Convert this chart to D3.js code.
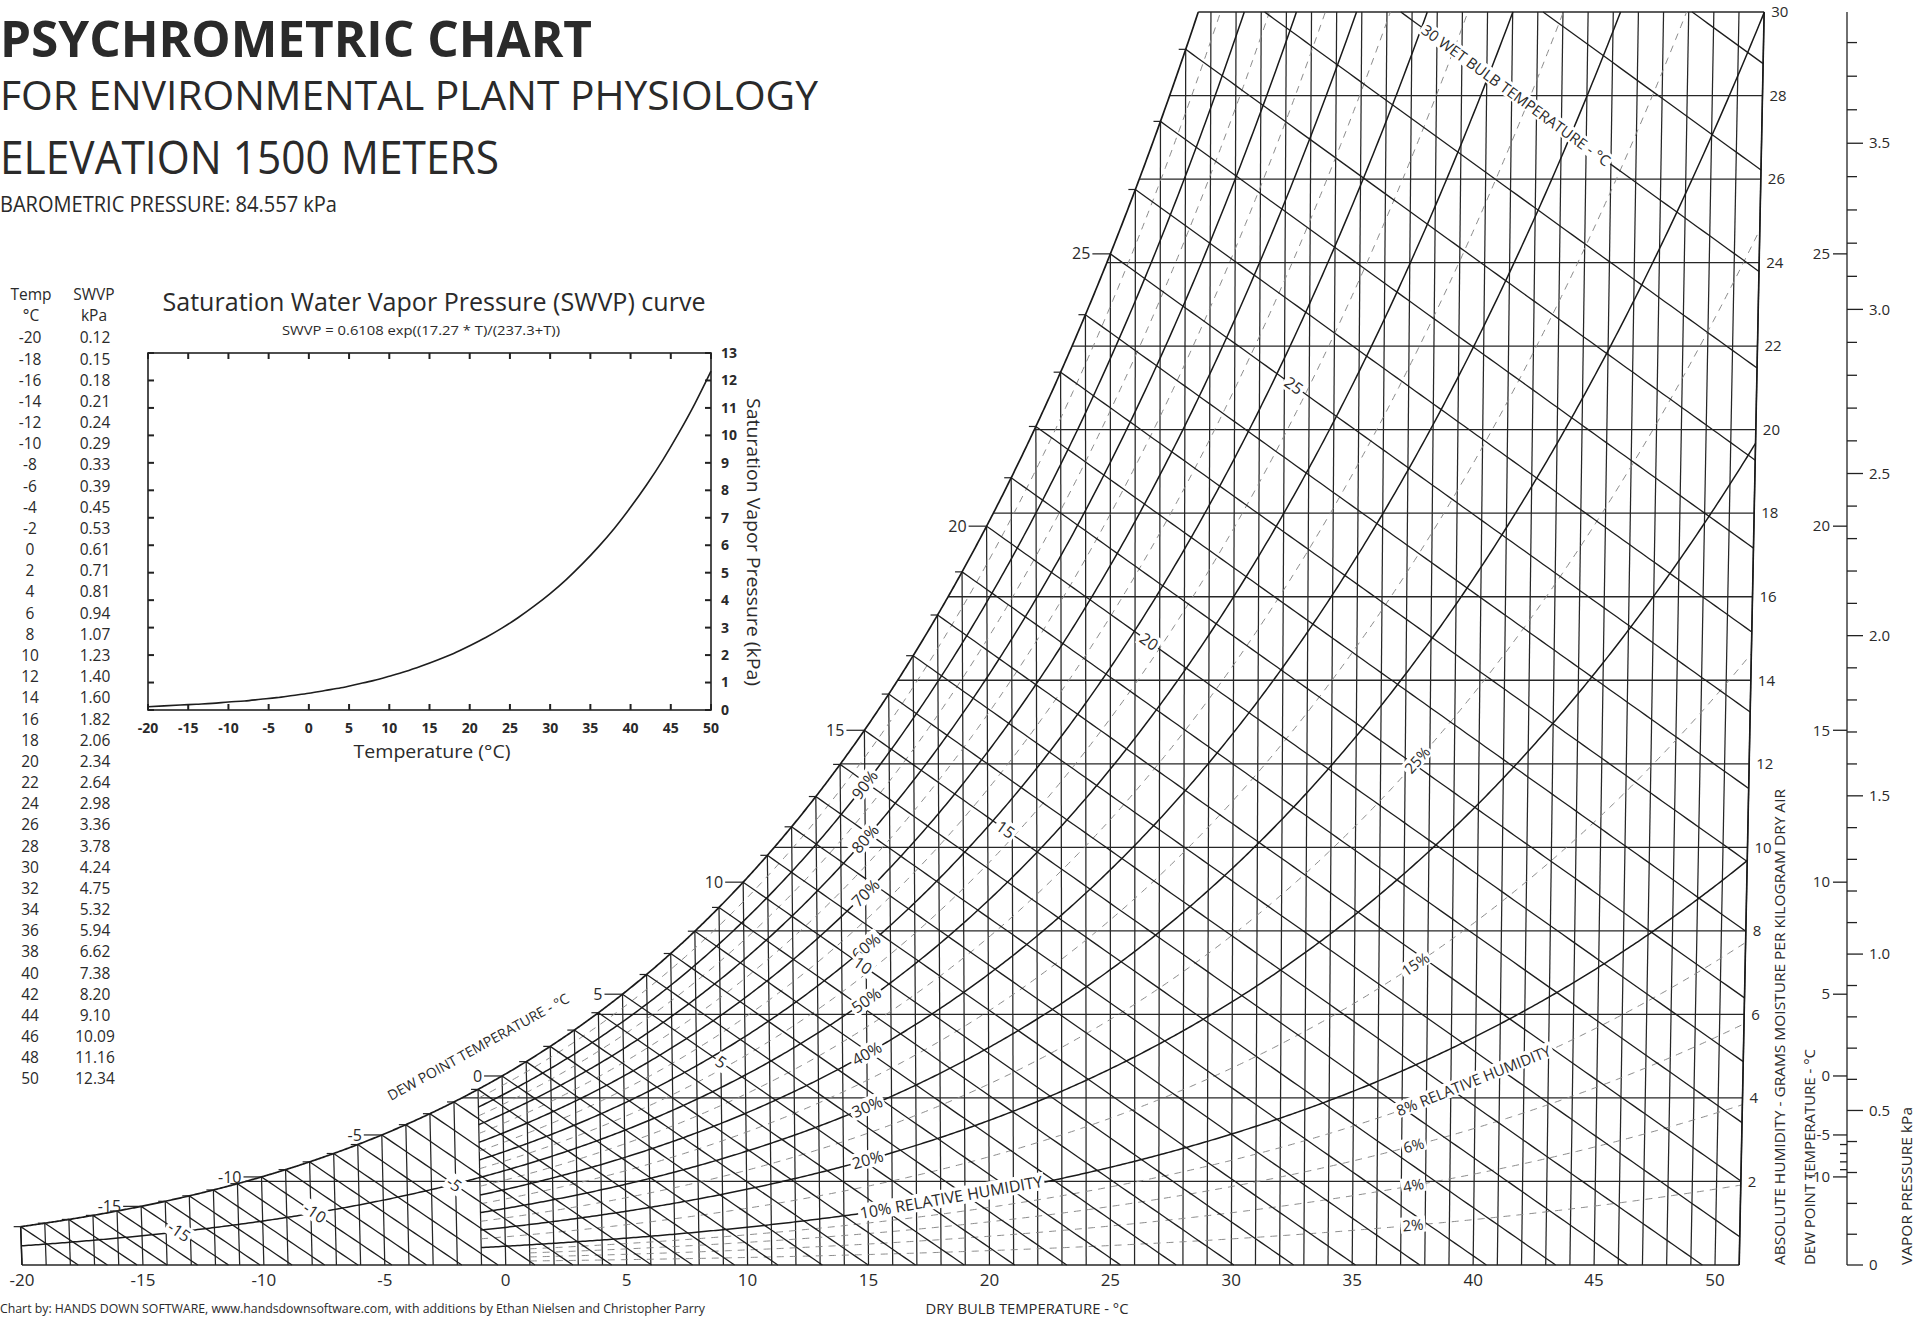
<!DOCTYPE html>
<html>
<head>
<meta charset="utf-8">
<script src="https://cdn.jsdelivr.net/npm/d3@7"></script>
<style>
  body { margin: 0; background: #fff; }
  svg { display: block; }
  text { font-family: "Open Sans", "DejaVu Sans", sans-serif; fill: #2a2a2a; }
  .narrow { font-family: "Liberation Sans Narrow", "Open Sans", sans-serif; }
</style>
</head>
<body>
<svg id="chart" width="1922" height="1320"></svg>
<script>
// ---- values ----
const tableTemps = [-20,-18,-16,-14,-12,-10,-8,-6,-4,-2,0,2,4,6,8,10,12,14,16,18,20,22,24,26,28,30,32,34,36,38,40,42,44,46,48,50];
const tableSwvp = [0.12,0.15,0.18,0.21,0.24,0.29,0.33,0.39,0.45,0.53,0.61,0.71,0.81,0.94,1.07,1.23,1.40,1.60,1.82,2.06,2.34,2.64,2.98,3.36,3.78,4.24,4.75,5.32,5.94,6.62,7.38,8.20,9.10,10.09,11.16,12.34];

const pressure = 84.557;                 // kPa, printed on the chart
const swvpA = 0.6108, swvpB = 17.27, swvpC = 237.3;   // printed SWVP formula

const dryBulbTicks = [-20,-15,-10,-5,0,5,10,15,20,25,30,35,40,45,50];
const humidityTicks = [2,4,6,8,10,12,14,16,18,20,22,24,26,28,30];
const rhSolid = [10,20,30,40,50,60,70,80,90];
const rhDashed = [2,4,6,8,15,25,35,45,55,65,75,85,95];
const rhMidLabels = [90,80,70,60,50,40,30,20];
const rhRightLabels = [2,4,6,15,25];
const satLabels = [-15,-10,-5,0,5,10,15,20,25];
const wetBulbLabels = [-15,-10,-5,5,10,15,20,25];
const dewTicks = [-10,-9,-8,-7,-6,-5,0,5,10,15,20,25];
const dewLabels = [-10,-5,0,5,10,15,20,25];
const vpLabels = [0,0.5,1.0,1.5,2.0,2.5,3.0,3.5];
const insetXTicks = [-20,-15,-10,-5,0,5,10,15,20,25,30,35,40,45,50];
const insetYTicks = [0,1,2,3,4,5,6,7,8,9,10,11,12,13];

const svg = d3.select("#chart");

// ---- psychrometric helpers ----
const wMax = 30, tMin = -20, tMax = 51;
const es = T => swvpA * Math.exp(swvpB * T / (swvpC + T));
const wFromE = e => 622 * e / (pressure - e);
const wSat = T => wFromE(es(T));
const wRH = (T, rh) => wFromE(rh / 100 * es(T));
const dewFromW = W => { const l = Math.log(W * pressure / (622 + W) / swvpA); return swvpC * l / (swvpB - l); };
const wWB = (T, tw) => ((2501 - 2.326 * tw) * wSat(tw) / 1000 - 1.006 * (T - tw)) / (2501 + 1.86 * T - 4.186 * tw) * 1000;

// ---- main chart scales ----
const x = d3.scaleLinear().domain([-20, 50]).range([22, 1715]);
const y = d3.scaleLinear().domain([0, 30]).range([1265, 12]);
const px = (T, W) => x(T) + 0.032 * W * (T - 25);   // dry bulb lines lean slightly

const line = d3.line().x(d => px(d[0], d[1])).y(d => y(d[1]));

function traceCurve(f, t0, t1, step = 0.1) {
  const pts = [];
  const inside = w => w >= 0 && w <= wMax;
  const n = Math.max(1, Math.ceil((t1 - t0) / step));
  let pT = t0, pW = f(t0);
  if (inside(pW)) pts.push([pT, pW]);
  for (let i = 1; i <= n; i++) {
    const T = t0 + (t1 - t0) * i / n, W = f(T);
    const a = inside(pW), b = inside(W);
    if (a !== b) {
      const lim = Math.max(pW, W) > wMax ? wMax : 0;
      let lo = pT, hi = T;
      for (let k = 0; k < 40; k++) {
        const m = (lo + hi) / 2;
        if ((f(m) - lim) * (pW - lim) > 0) lo = m; else hi = m;
      }
      pts.push([(lo + hi) / 2, lim]);
      if (a) break;
    }
    if (b) pts.push([T, W]);
    pT = T; pW = W;
  }
  return pts;
}

function solveT(g, a, b) {
  for (let k = 0; k < 50; k++) {
    const m = (a + b) / 2;
    if (g(a) * g(m) <= 0) b = m; else a = m;
  }
  return (a + b) / 2;
}

function angleAt(f, T) {
  const d = 0.25;
  const x1 = px(T - d, f(T - d)), y1 = y(f(T - d));
  const x2 = px(T + d, f(T + d)), y2 = y(f(T + d));
  return Math.atan2(y2 - y1, x2 - x1) * 180 / Math.PI;
}

const grid = svg.append("g").attr("fill", "none").attr("stroke-linecap", "butt");

// dry bulb lines
const dryBulbs = d3.range(tMin, tMax + 1);
grid.selectAll(".db").data(dryBulbs).join("path")
  .attr("class", "db")
  .attr("stroke", "#262626").attr("stroke-width", 1.25)
  .attr("d", T => line([[T, 0], [T, Math.min(wSat(T), wMax)]]));

// absolute humidity lines
grid.selectAll(".hl").data([0].concat(humidityTicks)).join("path")
  .attr("class", "hl")
  .attr("stroke", "#262626").attr("stroke-width", 1.3)
  .attr("d", W => line([[W === 0 ? tMin : dewFromW(W), W], [tMax, W]]));

// dashed relative humidity curves
grid.selectAll(".rhd").data(rhDashed).join("path")
  .attr("class", "rhd")
  .attr("stroke", "#8c8c8c").attr("stroke-width", 1).attr("stroke-dasharray", "7 6")
  .attr("d", rh => line(traceCurve(T => wRH(T, rh), rh < 10 ? 1 : -1, tMax)));

// wet bulb lines
const wetBulbs = d3.range(-20, 33);
grid.selectAll(".wb").data(wetBulbs).join("path")
  .attr("class", "wb")
  .attr("stroke", "#1e1e1e").attr("stroke-width", 1.3)
  .attr("d", tw => line(traceCurve(T => wWB(T, tw), tw, tMax, 0.25)));

// solid relative humidity curves
grid.selectAll(".rhs").data(rhSolid).join("path")
  .attr("class", "rhs")
  .attr("stroke", "#1a1a1a").attr("stroke-width", 1.5)
  .attr("d", rh => line(traceCurve(T => wRH(T, rh), rh === 50 ? tMin : -1, tMax)));

// saturation curve and edges
grid.append("path").attr("stroke", "#1a1a1a").attr("stroke-width", 1.7)
  .attr("d", line(traceCurve(wSat, tMin, tMax, 0.05)));
grid.append("path").attr("stroke", "#1a1a1a").attr("stroke-width", 1.6)
  .attr("d", line([[tMax, 0], [tMax, wMax]]));
grid.append("path").attr("stroke", "#1a1a1a").attr("stroke-width", 1.5)
  .attr("d", line([[tMin, 0], [tMin, wSat(tMin)]]));

// dew point ticks on saturation curve
const tSatTop = dewFromW(wMax);
const satPts = d3.range(-20, Math.floor(tSatTop) + 1);
grid.selectAll(".st").data(satPts).join("path")
  .attr("class", "st")
  .attr("stroke", "#222").attr("stroke-width", 1.2)
  .attr("d", T => {
    const W = wSat(T), len = satLabels.includes(T) ? 18 : 7;
    return `M${px(T, W)},${y(W)}h${-len}`;
  });

const labels = svg.append("g");
labels.selectAll(".sl").data(satLabels).join("text")
  .attr("class", "sl narrow")
  .attr("x", T => px(T, wSat(T)) - 20)
  .attr("y", T => y(wSat(T)))
  .attr("dy", "0.35em").attr("text-anchor", "end")
  .style("font-size", "16px")
  .text(d => d);

function boxedLabel(xp, yp, angle, txt, size, anchor = "middle") {
  const g = labels.append("g").attr("transform", `translate(${xp},${yp}) rotate(${angle})`);
  const t = g.append("text").attr("class", "narrow").attr("text-anchor", anchor)
    .attr("dy", "0.35em").style("font-size", size + "px").text(txt);
  const bb = t.node().getBBox();
  g.insert("rect", "text").attr("x", bb.x - 2).attr("y", bb.y + 2)
    .attr("width", bb.width + 4).attr("height", bb.height - 4).attr("fill", "#fff");
}

// RH labels along the 15 degree line
rhMidLabels.forEach(rh => {
  const f = T => wRH(T, rh);
  boxedLabel(px(15, f(15)), y(f(15)), angleAt(f, 15), rh + "%", 16);
});
{
  const f = T => wRH(T, 10);
  const a = Math.atan2(y(f(23)) - y(f(15)), px(23, f(23)) - px(15, f(15))) * 180 / Math.PI;
  boxedLabel(px(15, f(15)) - 8, y(f(15)) + 1, a, "10% RELATIVE HUMIDITY", 16, "start");
}
// RH labels on the right
rhRightLabels.forEach(rh => {
  const f = T => wRH(T, rh);
  boxedLabel(px(37.5, f(37.5)), y(f(37.5)), angleAt(f, 37.5), rh + "%", 15);
});
{
  const f = T => wRH(T, 8);
  const a = Math.atan2(y(f(43)) - y(f(36.8)), px(43, f(43)) - px(36.8, f(36.8))) * 180 / Math.PI;
  boxedLabel(px(36.8, f(36.8)), y(f(36.8)), a, "8% RELATIVE HUMIDITY", 15, "start");
}

// wet bulb labels
wetBulbLabels.forEach(tw => {
  const rh = tw < 0 ? 50 : 57;
  const T = solveT(t => wWB(t, tw) - wRH(t, rh), tw + 0.01, tw + 20);
  const f = t => wWB(t, tw);
  boxedLabel(px(T, f(T)), y(f(T)), angleAt(f, T), tw, 16);
});
{
  const f = t => wWB(t, 30);
  const t0 = solveT(t => f(t) - wMax, 30, 45) + 0.9;
  boxedLabel(px(t0, f(t0)), y(f(t0)), angleAt(f, t0), "30 WET BULB TEMPERATURE - °C", 15, "start");
}

labels.append("text")
  .attr("transform", "translate(391,1101) rotate(-29)")
  .style("font-size", "14px")
  .attr("textLength", 205).attr("lengthAdjust", "spacingAndGlyphs")
  .text("DEW POINT TEMPERATURE - °C");

// bottom axis labels
labels.selectAll(".xl").data(dryBulbTicks).join("text")
  .attr("class", "xl narrow")
  .attr("x", T => x(T)).attr("y", 1286)
  .attr("text-anchor", "middle").style("font-size", "17px")
  .text(d => d);

// right humidity labels
labels.selectAll(".yl").data(humidityTicks).join("text")
  .attr("class", "yl")
  .attr("x", W => px(tMax, W) + 7).attr("y", W => y(W))
  .attr("dy", "0.35em").style("font-size", "15px")
  .text(d => d);

labels.append("text").attr("x", 1027).attr("y", 1314).attr("text-anchor", "middle")
  .attr("class", "narrow").style("font-size", "15px")
  .attr("textLength", 203).attr("lengthAdjust", "spacingAndGlyphs")
  .text("DRY BULB TEMPERATURE - °C");
labels.append("text").attr("x", 0).attr("y", 1313)
  .attr("class", "narrow").style("font-size", "13px")
  .attr("textLength", 705).attr("lengthAdjust", "spacingAndGlyphs")
  .text("Chart by: HANDS DOWN SOFTWARE, www.handsdownsoftware.com, with additions by Ethan Nielsen and Christopher Parry");

// right-hand axis titles
const vt = (xb, len, txt) => labels.append("text")
  .attr("transform", `translate(${xb},1265) rotate(-90)`)
  .style("font-size", "15px")
  .attr("textLength", len).attr("lengthAdjust", "spacingAndGlyphs")
  .text(txt);
vt(1785, 476, "ABSOLUTE HUMIDITY - GRAMS MOISTURE PER KILOGRAM DRY AIR");
vt(1815, 216, "DEW POINT TEMPERATURE - °C");
vt(1912, 158, "VAPOR PRESSURE  kPa");

// dew point / vapour pressure scale
const ax = 1847;
const scale = svg.append("g").attr("stroke", "#222").attr("stroke-width", 1.3);
scale.append("line").attr("x1", ax).attr("x2", ax).attr("y1", y(0)).attr("y2", y(wMax));
const vpTicks = d3.range(0, 3.85, 0.1);
scale.selectAll(".vt").data(vpTicks).join("line")
  .attr("x1", ax).attr("x2", e => ax + (Math.abs(e * 2 - Math.round(e * 2)) < 1e-6 ? 16 : 10))
  .attr("y1", e => y(wFromE(e))).attr("y2", e => y(wFromE(e)));
scale.selectAll(".dt").data(dewTicks).join("line")
  .attr("x1", ax).attr("x2", T => ax - (dewLabels.includes(T) ? 14 : 7))
  .attr("y1", T => y(wSat(T))).attr("y2", T => y(wSat(T)));
labels.selectAll(".vl").data(vpLabels).join("text")
  .attr("x", ax + 22).attr("y", e => y(wFromE(e))).attr("dy", "0.35em")
  .style("font-size", "15px").text(d => d === 0 ? "0" : d3.format(".1f")(d));
labels.selectAll(".dl").data(dewLabels).join("text")
  .attr("x", ax - 17).attr("y", T => y(wSat(T))).attr("dy", "0.35em")
  .attr("text-anchor", "end").style("font-size", "15px").text(d => d);

// ---- titles ----
const head = svg.append("g");
head.append("text").attr("x", 0).attr("y", 57).style("font-size", "51px").style("font-weight", 700)
  .attr("textLength", 592).attr("lengthAdjust", "spacingAndGlyphs").text("PSYCHROMETRIC CHART");
head.append("text").attr("x", 0).attr("y", 110).style("font-size", "41px")
  .attr("textLength", 818).attr("lengthAdjust", "spacingAndGlyphs").text("FOR ENVIRONMENTAL PLANT PHYSIOLOGY");
head.append("text").attr("x", 0).attr("y", 174).style("font-size", "45px")
  .attr("textLength", 499).attr("lengthAdjust", "spacingAndGlyphs").text("ELEVATION 1500 METERS");
head.append("text").attr("x", 0).attr("y", 212).style("font-size", "21px")
  .attr("textLength", 337).attr("lengthAdjust", "spacingAndGlyphs").text("BAROMETRIC PRESSURE: 84.557 kPa");

// ---- table ----
const table = svg.append("g").style("font-size", "15.5px").attr("class", "narrow");
table.append("text").attr("x", 31).attr("y", 300).attr("text-anchor", "middle").text("Temp");
table.append("text").attr("x", 31).attr("y", 321).attr("text-anchor", "middle").text("°C");
table.append("text").attr("x", 94).attr("y", 300).attr("text-anchor", "middle").text("SWVP");
table.append("text").attr("x", 94).attr("y", 321).attr("text-anchor", "middle").text("kPa");
const rowY = d3.scaleLinear().domain([0, tableTemps.length - 1]).range([338, 1079]);
table.selectAll(".tt").data(tableTemps).join("text")
  .attr("x", 30).attr("y", (d, i) => rowY(i)).attr("dy", "0.35em").attr("text-anchor", "middle").text(d => d);
table.selectAll(".tv").data(tableSwvp).join("text")
  .attr("x", 95).attr("y", (d, i) => rowY(i)).attr("dy", "0.35em").attr("text-anchor", "middle")
  .text(d => d3.format(".2f")(d));

// ---- inset SWVP curve ----
const ix = d3.scaleLinear().domain([-20, 50]).range([148, 711]);
const iy = d3.scaleLinear().domain([0, 13]).range([710, 353]);
const inset = svg.append("g");
inset.append("rect").attr("x", ix(-20)).attr("y", iy(13)).attr("width", ix(50) - ix(-20)).attr("height", iy(0) - iy(13))
  .attr("fill", "none").attr("stroke", "#222").attr("stroke-width", 1.6);
const it = inset.append("g").attr("stroke", "#222").attr("stroke-width", 2);
it.selectAll(".b").data(insetXTicks).join("line")
  .attr("x1", d => ix(d)).attr("x2", d => ix(d)).attr("y1", iy(0)).attr("y2", iy(0) - 6);
it.selectAll(".t").data(insetXTicks).join("line")
  .attr("x1", d => ix(d)).attr("x2", d => ix(d)).attr("y1", iy(13)).attr("y2", iy(13) + 6);
it.selectAll(".l").data(insetYTicks).join("line")
  .attr("x1", ix(-20)).attr("x2", ix(-20) + 6).attr("y1", d => iy(d)).attr("y2", d => iy(d));
it.selectAll(".r").data(insetYTicks).join("line")
  .attr("x1", ix(50)).attr("x2", ix(50) - 6).attr("y1", d => iy(d)).attr("y2", d => iy(d));
inset.append("path")
  .datum(tableTemps.map((t, i) => [t, tableSwvp[i]]))
  .attr("fill", "none").attr("stroke", "#1e1e1e").attr("stroke-width", 1.6)
  .attr("d", d3.line().x(d => ix(d[0])).y(d => iy(d[1])).curve(d3.curveMonotoneX));
inset.selectAll(".ixl").data(insetXTicks).join("text")
  .attr("class", "narrow").attr("x", d => ix(d)).attr("y", 733)
  .attr("text-anchor", "middle").style("font-size", "14px").style("font-weight", 700).text(d => d);
inset.selectAll(".iyl").data(insetYTicks).join("text")
  .attr("class", "narrow").attr("x", 721).attr("y", d => iy(d)).attr("dy", "0.35em")
  .style("font-size", "14px").style("font-weight", 700).text(d => d);
inset.append("text").attr("x", 434).attr("y", 311).attr("text-anchor", "middle").style("font-size", "25px")
  .attr("textLength", 543).attr("lengthAdjust", "spacingAndGlyphs").text("Saturation Water Vapor Pressure (SWVP) curve");
inset.append("text").attr("x", 421).attr("y", 335).attr("text-anchor", "middle").attr("class", "narrow").style("font-size", "13px")
  .attr("textLength", 278).attr("lengthAdjust", "spacingAndGlyphs").text("SWVP = 0.6108 exp((17.27 * T)/(237.3+T))");
inset.append("text").attr("x", 432).attr("y", 758).attr("text-anchor", "middle").style("font-size", "19px")
  .attr("textLength", 157).attr("lengthAdjust", "spacingAndGlyphs").text("Temperature (°C)");
inset.append("text").attr("transform", "translate(747,398) rotate(90)").style("font-size", "19px")
  .attr("textLength", 288).attr("lengthAdjust", "spacingAndGlyphs").text("Saturation Vapor Pressure (kPa)");
</script>
</body>
</html>
